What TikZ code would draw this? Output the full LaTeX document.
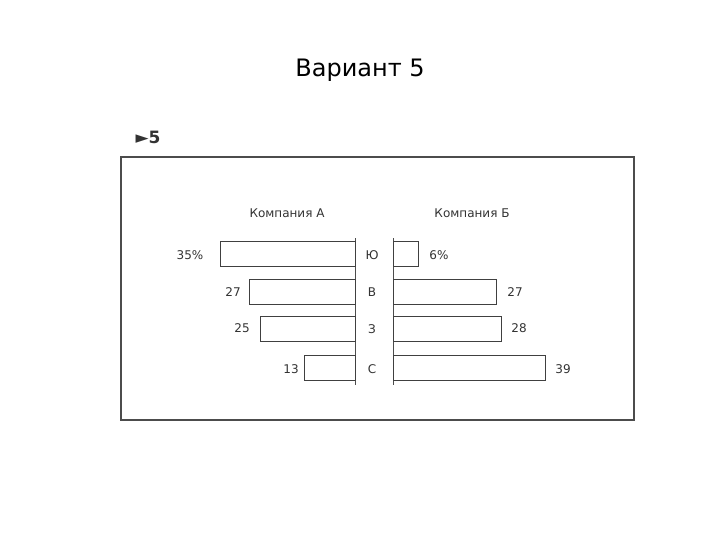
\documentclass[tikz,border=0pt]{standalone}
\usepackage{fontspec}
\setmainfont{DejaVu Sans}
\begin{document}
\begin{tikzpicture}[x=1pt,y=-1pt,
  bar/.style={draw=black!75,line width=0.9pt},
  lab/.style={font=\fontsize{12}{13}\selectfont,text=black!80,inner sep=0pt},
  ax/.style={draw=black!70,line width=1pt}]
\useasboundingbox[fill=white] (0,0) rectangle (720,540);
\node[font=\fontsize{24}{28}\selectfont,inner sep=0pt] (title) at (360,70) {Вариант 5};
\node[lab,font=\bfseries\fontsize{17}{19}\selectfont] (mark) at (148,137) {►5};
\draw[draw=black!70,line width=1.2pt] (121,157) rectangle (634,420);
\node[lab] (ha) at (287,213) {Компания А};
\node[lab] (hb) at (472,213) {Компания Б};
\coordinate (la1) at (355,238); \coordinate (la2) at (355,385);
\coordinate (ra1) at (393,238); \coordinate (ra2) at (393,385);
\draw[ax] (la1) -- (la2);
\draw[ax] (ra1) -- (ra2);
\draw[bar] (220,241) rectangle (355,266);
\draw[bar] (249,279) rectangle (355,304);
\draw[bar] (260,316) rectangle (355,341);
\draw[bar] (304,355) rectangle (355,380);
\draw[bar] (393,241) rectangle (418,266);
\draw[bar] (393,279) rectangle (496,304);
\draw[bar] (393,316) rectangle (501,341);
\draw[bar] (393,355) rectangle (545,380);
\node[lab] (ju) at (372,255) {Ю};
\node[lab] (v) at (372,292) {В};
\node[lab] (z) at (372,329) {З};
\node[lab] (s) at (372,369) {С};
\node[lab] (a1) at (190,255) {35\%};
\node[lab] (a2) at (233,292) {27};
\node[lab] (a3) at (242,328) {25};
\node[lab] (a4) at (291,369) {13};
\node[lab] (b1) at (439,255) {6\%};
\node[lab] (b2) at (515,292) {27};
\node[lab] (b3) at (519,328) {28};
\node[lab] (b4) at (563,369) {39};
\end{tikzpicture}
\end{document}
